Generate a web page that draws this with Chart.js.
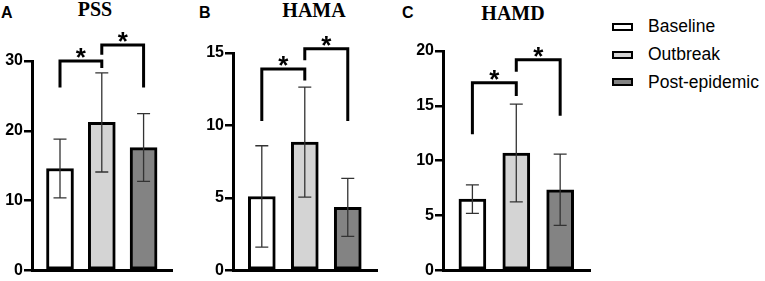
<!DOCTYPE html>
<html>
<head>
<meta charset="utf-8">
<script src="https://cdn.jsdelivr.net/npm/chart.js@4/dist/chart.umd.min.js"></script>
<style>
  body { margin: 0; width: 765px; height: 281px; position: relative; background: #fff; overflow: hidden;
         font-family: "Liberation Sans", Arial, sans-serif; color: #000; }
  canvas { position: absolute; top: 0; }
  .letter { position: absolute; font-weight: bold; font-size: 16px; line-height: 1; }
  .title { position: absolute; width: 100px; text-align: center; line-height: 1;
           font-family: "Liberation Serif", "Times New Roman", serif; font-weight: bold; font-size: 20px; }
  #legend { position: absolute; left: 612px; top: 13px; font-size: 17.5px; }
  #legend .item { display: flex; align-items: center; height: 27.75px; }
  #legend .box { width: 21px; height: 8px; box-sizing: border-box; border: 2px solid #000; margin-right: 15px; }
</style>
</head>
<body>
<div class="letter" style="left:1px;top:5px">A</div>
<div class="letter" style="left:199px;top:5px">B</div>
<div class="letter" style="left:402px;top:5px">C</div>
<div class="title" style="left:45px;top:-1px">PSS</div>
<div class="title" style="left:264px;top:0px">HAMA</div>
<div class="title" style="left:463px;top:3px">HAMD</div>

<canvas id="pss" width="180" height="281" style="left:0px"></canvas>
<canvas id="hama" width="185" height="281" style="left:200px"></canvas>
<canvas id="hamd" width="198" height="281" style="left:400px"></canvas>
<div id="legend"></div>

<script>
// groups shown in every panel
const groups = ['Baseline', 'Outbreak', 'Post-epidemic']
const groupColors = ['#ffffff', '#d4d4d4', '#838383']

// mean and SD per group
const pssMean = [14.6, 21.2, 17.6]
const pssSd = [4.2, 7.1, 4.85]
const pssTicks = [0, 10, 20, 30]

const hamaMean = [5.1, 8.85, 4.35]
const hamaSd = [3.5, 3.8, 2.0]
const hamaTicks = [0, 5, 10, 15]

const hamdMean = [6.5, 10.7, 7.35]
const hamdSd = [1.3, 4.45, 3.25]
const hamdTicks = [0, 5, 10, 15, 20]

// significance brackets: [from group, to group, top, left leg end, right leg end]
const pssBrackets = [[0, 1, 30, 26.2, 29.0], [1, 2, 32.3, 30.9, 26.2]]
const hamaBrackets = [[0, 1, 13.9, 10.3, 13.1], [1, 2, 15.3, 14.5, 10.3]]
const hamdBrackets = [[0, 1, 17.1, 12.4, 15.9], [1, 2, 19.2, 18.1, 14.1]]

// error bars + brackets drawn on top of the bars
function marksPlugin(mean, sd, brackets) {
  return {
    id: 'marks',
    afterDatasetsDraw(chart) {
      const { ctx, scales: { x, y } } = chart
      ctx.save()
      ctx.strokeStyle = '#333'
      ctx.lineWidth = 1.3
      mean.forEach((m, i) => {
        const px = x.getPixelForValue(i + 1)
        const hi = y.getPixelForValue(m + sd[i])
        const lo = y.getPixelForValue(m - sd[i])
        ctx.beginPath()
        ctx.moveTo(px, hi); ctx.lineTo(px, lo)
        ctx.moveTo(px - 6.5, hi); ctx.lineTo(px + 6.5, hi)
        ctx.moveTo(px - 6.5, lo); ctx.lineTo(px + 6.5, lo)
        ctx.stroke()
      })

      ctx.strokeStyle = '#000'
      ctx.lineWidth = 3
      ctx.fillStyle = '#000'
      ctx.font = 'bold 26px "Liberation Sans", Arial, sans-serif'
      ctx.textAlign = 'center'
      ctx.textBaseline = 'alphabetic'
      brackets.forEach(([a, b, top, left, right]) => {
        const xa = x.getPixelForValue(a + 1)
        const xb = x.getPixelForValue(b + 1)
        const yt = y.getPixelForValue(top)
        ctx.beginPath()
        ctx.moveTo(xa, y.getPixelForValue(left))
        ctx.lineTo(xa, yt)
        ctx.lineTo(xb, yt)
        ctx.lineTo(xb, y.getPixelForValue(right))
        ctx.stroke()
        ctx.fillText('*', (xa + xb) / 2, yt + 5)
      })
      ctx.restore()
    }
  }
}

function makePanel(id, mean, sd, ticks, brackets, axisWidth, top) {
  new Chart(document.getElementById(id), {
    type: 'bar',
    data: {
      datasets: [{
        data: mean.map((v, i) => ({ x: i + 1, y: v })),
        backgroundColor: groupColors,
        borderColor: '#000',
        borderWidth: 3,
        borderSkipped: false,
        barThickness: 27
      }]
    },
    options: {
      responsive: false,
      animation: false,
      layout: { padding: { top: top, bottom: 9, right: 8, left: 0 } },
      plugins: { legend: { display: false }, tooltip: { enabled: false } },
      scales: {
        x: {
          type: 'linear',
          min: 0.33,
          max: 3.68,
          offset: false,
          ticks: { display: false },
          grid: { display: false, drawTicks: false },
          border: { display: true, color: '#000', width: 3 }
        },
        y: {
          min: 0,
          max: ticks[ticks.length - 1],
          afterBuildTicks: s => { s.ticks = ticks.map(v => ({ value: v })) },
          afterFit: s => { s.width = axisWidth },
          grid: { drawOnChartArea: false, drawTicks: true, tickLength: 8, color: '#000', lineWidth: 2.5 },
          border: { display: true, color: '#000', width: 3 },
          ticks: {
            color: '#000',
            padding: 1,
            font: { family: '"Liberation Sans", Arial, sans-serif', weight: 'bold', size: 16 }
          }
        }
      }
    },
    plugins: [marksPlugin(mean, sd, brackets)]
  })
}

makePanel('pss', pssMean, pssSd, pssTicks, pssBrackets, 32, 61)
makePanel('hama', hamaMean, hamaSd, hamaTicks, hamaBrackets, 33, 53)
makePanel('hamd', hamdMean, hamdSd, hamdTicks, hamdBrackets, 43, 51)

// legend
const legend = document.getElementById('legend')
groups.forEach((g, i) => {
  const item = document.createElement('div')
  item.className = 'item'
  const box = document.createElement('span')
  box.className = 'box'
  box.style.background = groupColors[i]
  const label = document.createElement('span')
  label.textContent = g
  item.appendChild(box)
  item.appendChild(label)
  legend.appendChild(item)
})
</script>
</body>
</html>
